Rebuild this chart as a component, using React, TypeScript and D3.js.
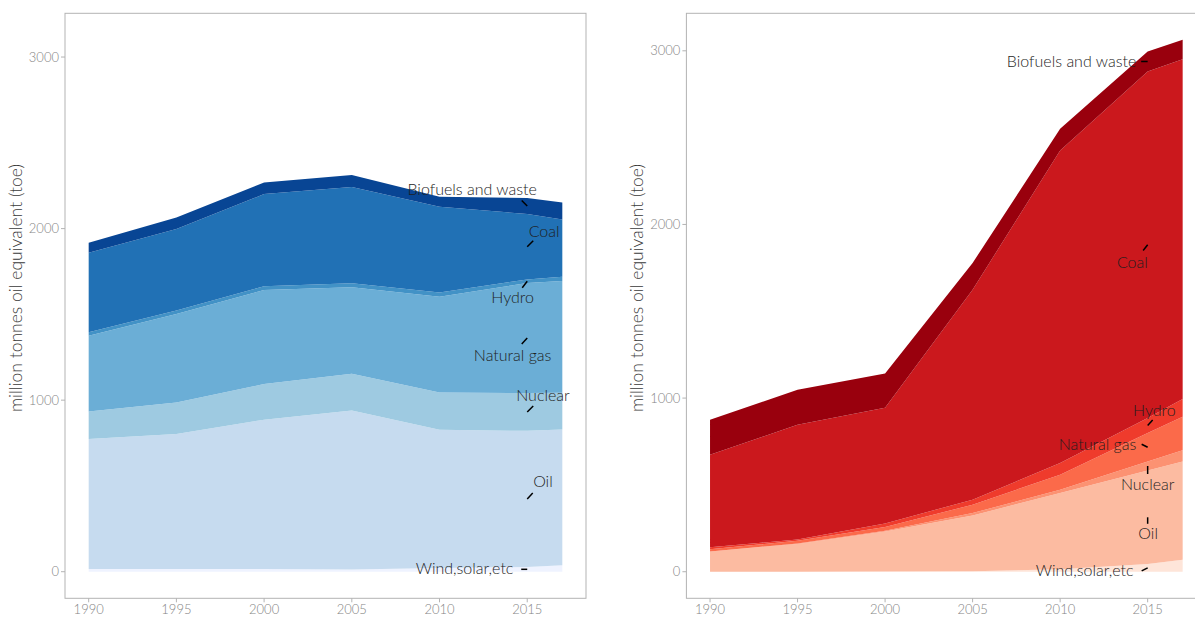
import React from "react";
import * as d3 from "d3";

// ---------- data ----------
const years = [1990, 1995, 2000, 2005, 2010, 2015, 2017];
const fuels = ["Wind,solar,etc", "Oil", "Nuclear", "Natural gas", "Hydro", "Coal", "Biofuels and waste"];

// left panel (blue)
const blueWind = [16, 16, 16, 13, 22, 28, 38];
const blueOil = [758, 787, 870, 927, 805, 793, 791];
const blueNuclear = [160, 184, 208, 214, 218, 220, 214];
const blueGas = [441, 515, 548, 504, 558, 642, 652];
const blueHydro = [21, 21, 22, 23, 24, 21, 25];
const blueCoal = [463, 474, 537, 562, 500, 381, 333];
const blueBio = [58, 68, 68, 70, 58, 94, 99];

// right panel (red)
const redWind = [0, 0, 1, 3, 15, 44, 69];
const redOil = [117, 160, 231, 321, 438, 539, 566];
const redNuclear = [0, 3, 4, 14, 19, 52, 65];
const redGas = [13, 15, 21, 48, 87, 164, 193];
const redHydro = [11, 7, 21, 29, 67, 86, 102];
const redCoal = [533, 661, 666, 1209, 1800, 1996, 1957];
const redBio = [201, 202, 198, 154, 125, 115, 111];

const xTicks = [1990, 1995, 2000, 2005, 2010, 2015];
const yTicks = [0, 1000, 2000, 3000];
const labelYear = 2015;
const yTitle = "million tonnes oil equivalent (toe)";

// ---------- style ----------
const bluePalette = ["#eff3ff", "#c6dbef", "#9ecae1", "#6baed6", "#4292c6", "#2171b5", "#084594"];
const redPalette = ["#fee5d9", "#fcbba1", "#fc9272", "#fb6a4a", "#ef3b2c", "#cb181d", "#99000d"];

// label text placement relative to anchor point (center x offset, baseline offset)
const blueLabelDx = [-62.7, 15.7, 15.7, -14.6, -14.6, 16.9, -55.1];
const blueLabelDy = [5, -11.6, -11.3, 22.5, 22.1, -9.9, -10.8];
const blueSegDx = [-6, 5.5, 6, -5.5, -5, 6, -5.5];
const blueSegDy = [0, -6, -6, 6, 6.5, -6, -5.5];

const redLabelDx = [-63, 0.5, 0, -50.1, 6.7, -15.3, -76.1];
const redLabelDy = [8.5, 21.7, 23.8, 2.5, -9.8, 23.3, 5.8];
const redSegDx = [-6, 0, 0, -6, 5, -4.5, -6.5];
const redSegDy = [3, 6.5, 8, -3, -5.5, 5.7, 0];

const FONT = "Lato, 'Open Sans', 'DejaVu Sans', sans-serif";

type PanelSpec = {
  left: number;
  right: number;
  top: number;
  bottom: number;
  yDomain: [number, number];
  series: number[][];
  palette: string[];
  labelDx: number[];
  labelDy: number[];
  segDx: number[];
  segDy: number[];
};

const panels: PanelSpec[] = [
  {
    left: 65,
    right: 586,
    top: 13.3,
    bottom: 598.3,
    yDomain: [-155, 3255],
    series: [blueWind, blueOil, blueNuclear, blueGas, blueHydro, blueCoal, blueBio],
    palette: bluePalette,
    labelDx: blueLabelDx,
    labelDy: blueLabelDy,
    segDx: blueSegDx,
    segDy: blueSegDy,
  },
  {
    left: 686.4,
    right: 1206.3,
    top: 13.3,
    bottom: 598.3,
    yDomain: [-153, 3216],
    series: [redWind, redOil, redNuclear, redGas, redHydro, redCoal, redBio],
    palette: redPalette,
    labelDx: redLabelDx,
    labelDy: redLabelDy,
    segDx: redSegDx,
    segDy: redSegDy,
  },
];

function Panel({ spec }: { spec: PanelSpec }) {
  const span = years[years.length - 1] - years[0];
  const x = d3
    .scaleLinear()
    .domain([years[0] - 0.05 * span, years[years.length - 1] + 0.05 * span])
    .range([spec.left, spec.right]);
  const y = d3.scaleLinear().domain(spec.yDomain).range([spec.bottom, spec.top]);

  const rows = years.map((yr, i) => {
    const r: any = { year: yr };
    fuels.forEach((f, k) => (r[f] = spec.series[k][i]));
    return r;
  });
  const stacked = d3.stack<any>().keys(fuels)(rows);
  const area = d3
    .area<any>()
    .x((d: any) => x(d.data.year))
    .y0((d: any) => y(d[0]))
    .y1((d: any) => y(d[1]));

  const li = years.indexOf(labelYear);
  const tickColor = "#b3b3b3";

  return (
    <g>
      {stacked.map((s, k) => (
        <path key={fuels[k]} d={area(s) || ""} fill={spec.palette[k]} />
      ))}
      <rect
        x={spec.left}
        y={spec.top}
        width={spec.right - spec.left}
        height={spec.bottom - spec.top}
        fill="none"
        stroke={tickColor}
        strokeWidth={1}
      />
      {yTicks.map((t) => (
        <g key={"y" + t}>
          <line x1={spec.left - 4} x2={spec.left} y1={y(t)} y2={y(t)} stroke={tickColor} strokeWidth={1} />
          <text
            x={spec.left - 6}
            y={y(t)}
            dy="0.35em"
            textAnchor="end"
            fontSize={13}
            fill="#858585"
            fontFamily={FONT}
            fontWeight={300}
          >
            {t}
          </text>
        </g>
      ))}
      {xTicks.map((t) => (
        <g key={"x" + t}>
          <line x1={x(t)} x2={x(t)} y1={spec.bottom} y2={spec.bottom + 4} stroke={tickColor} strokeWidth={1} />
          <text
            x={x(t)}
            y={spec.bottom + 16}
            textAnchor="middle"
            fontSize={13}
            fill="#858585"
            fontFamily={FONT}
            fontWeight={300}
          >
            {t}
          </text>
        </g>
      ))}
      <text
        transform={`translate(${spec.left - 43},${288}) rotate(-90)`}
        textAnchor="middle"
        fontSize={17.5}
        fill="#3a3a3a"
        fontFamily={FONT}
        fontWeight={300}
      >
        {yTitle}
      </text>
      {stacked.map((s, k) => {
        const d = s[li];
        const px = x(labelYear);
        const py = y((d[0] + d[1]) / 2);
        return (
          <g key={"lab" + k}>
            <line
              x1={px}
              y1={py}
              x2={px + spec.segDx[k]}
              y2={py + spec.segDy[k]}
              stroke="#000"
              strokeWidth={1.5}
            />
            <text
              x={px + spec.labelDx[k]}
              y={py + spec.labelDy[k]}
              textAnchor="middle"
              fontSize={16}
              fill="#1e1e1e"
              fontFamily={FONT}
              fontWeight={300}
            >
              {fuels[k]}
            </text>
          </g>
        );
      })}
    </g>
  );
}

export default function App() {
  return (
    <svg
      width={1195}
      height={617}
      style={{ position: "absolute", left: 0, top: 0, background: "#fff" }}
    >
      <rect x={0} y={0} width={1195} height={617} fill="#fff" />
      {panels.map((p, i) => (
        <Panel key={i} spec={p} />
      ))}
    </svg>
  );
}
